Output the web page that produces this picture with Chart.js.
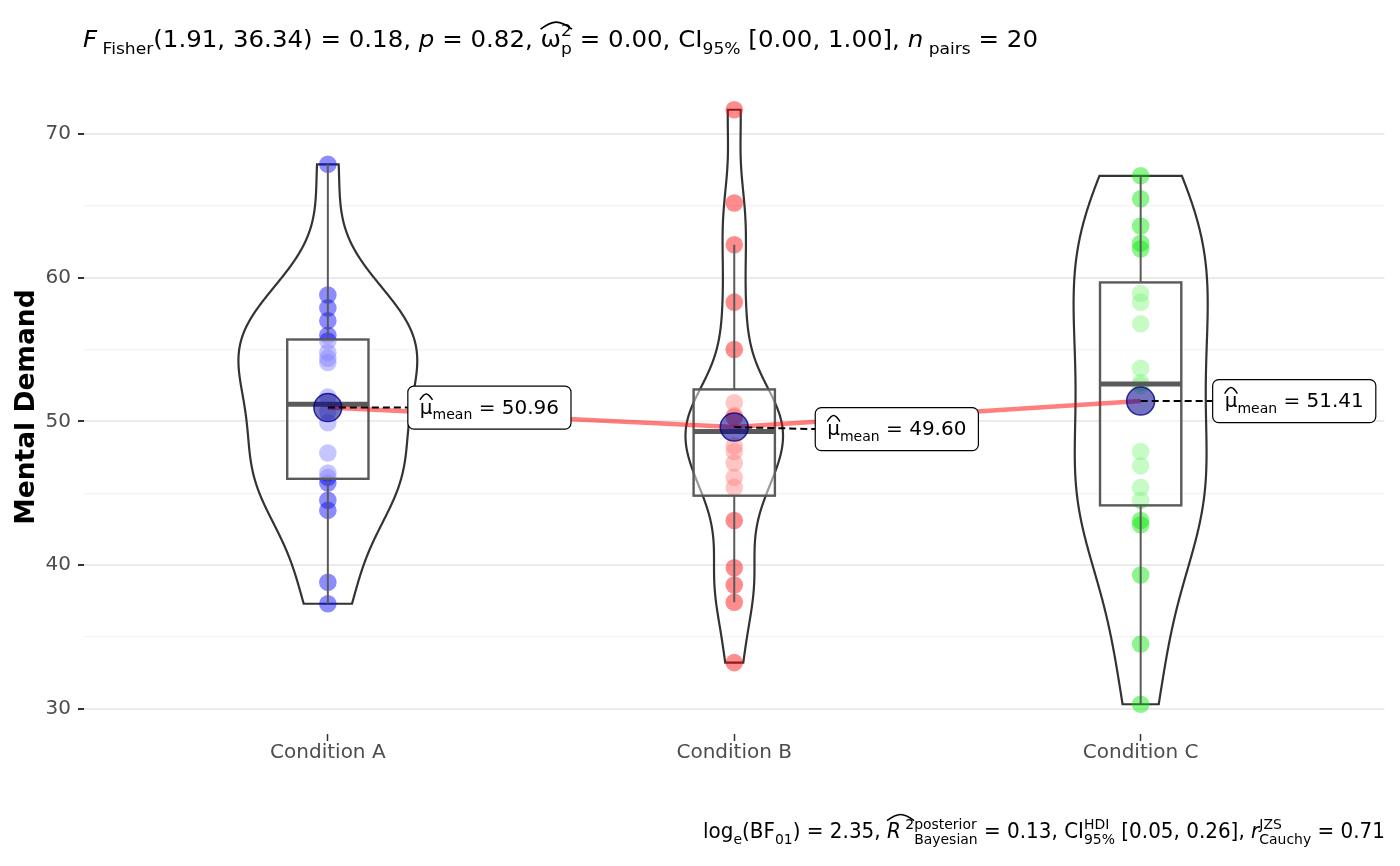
<!DOCTYPE html>
<html>
<head>
<meta charset="utf-8">
<script src="https://cdn.jsdelivr.net/npm/chart.js@4.4.1/dist/chart.umd.min.js"></script>
<style>
  body { margin: 0; background: #fff; }
  #wrap { width: 1400px; height: 866px; position: relative; }
</style>
</head>
<body>
<div id="wrap"><canvas id="chart"></canvas></div>
<script>
// values
const categories = ['Condition A', 'Condition B', 'Condition C'];
const condA = [67.9, 58.8, 57.9, 57.0, 56.0, 55.6, 54.8, 54.4, 54.1, 51.7, 50.7, 49.9, 47.8, 46.1, 46.4, 45.7, 44.5, 43.8, 38.8, 37.3];
const condB = [71.7, 65.2, 62.3, 58.3, 55.0, 51.3, 50.4, 50.3, 50.3, 50.3, 48.3, 47.9, 47.1, 46.1, 45.4, 43.1, 39.8, 38.6, 37.4, 33.2];
const condC = [67.1, 65.5, 63.6, 62.4, 62.0, 58.9, 58.3, 56.8, 53.7, 52.7, 52.5, 47.9, 46.9, 45.4, 44.5, 43.1, 42.8, 39.3, 34.5, 30.3];
const yTicks = [30, 35, 40, 45, 50, 55, 60, 65, 70];

const groups = [condA, condB, condC];
const pointColors = ['rgba(0,0,255,0.45)', 'rgba(255,0,0,0.45)', 'rgba(0,235,0,0.45)'];
const violinHalfWidth = [0.22, 0.12, 0.165];
const labelNudgeX = [80, 81, 72];
const labelNudgeY = [0, 2, 0];
const FONT = 'DejaVu Sans';

// little stats helpers
const mean = a => a.reduce((s, v) => s + v, 0) / a.length;
function quantile(a, p) {
  const s = [...a].sort((x, y) => x - y);
  const h = (s.length - 1) * p, lo = Math.floor(h);
  return lo + 1 < s.length ? s[lo] + (h - lo) * (s[lo + 1] - s[lo]) : s[lo];
}
function bwNrd0(a) {
  const m = mean(a);
  const sd = Math.sqrt(a.reduce((s, v) => s + (v - m) ** 2, 0) / (a.length - 1));
  const iqr = quantile(a, 0.75) - quantile(a, 0.25);
  return 0.9 * Math.min(sd, iqr / 1.34) * Math.pow(a.length, -0.2);
}
function kde(a, bw, y) {
  let s = 0;
  a.forEach(v => { s += Math.exp(-0.5 * ((y - v) / bw) ** 2); });
  return s / (a.length * bw * Math.sqrt(2 * Math.PI));
}

const means = groups.map(mean);
const allVals = groups.flat();
const yLo = Math.min(...allVals), yHi = Math.max(...allVals);
const yPad = (yHi - yLo) * 0.05;

// violin outlines (trimmed at the data range)
const violins = groups.map(g => {
  const bw = bwNrd0(g), lo = Math.min(...g), hi = Math.max(...g);
  const ys = [], ds = [];
  for (let k = 0; k < 512; k++) {
    const y = lo + (hi - lo) * k / 511;
    ys.push(y); ds.push(kde(g, bw, y));
  }
  return { ys, ds, max: Math.max(...ds) };
});

// boxplot stats
const boxes = groups.map(g => {
  const q1 = quantile(g, 0.25), q3 = quantile(g, 0.75), med = quantile(g, 0.5);
  const iqr = q3 - q1;
  const inside = g.filter(v => v >= q1 - 1.5 * iqr && v <= q3 + 1.5 * iqr);
  return { q1, q3, med, lo: Math.min(...inside), hi: Math.max(...inside) };
});

// rich text (sub / superscripts, italics, hats)
function segFont(size, italic) { return (italic ? 'italic ' : '') + size + 'px "' + FONT + '"'; }
function segWidth(ctx, s, size) {
  if (s.st === 'stack') {
    ctx.font = segFont(size * 0.7);
    return Math.max(ctx.measureText(s.sup).width, ctx.measureText(s.sub).width);
  }
  const sz = (s.st === 'sub' || s.st === 'sup') ? size * 0.7 : size;
  ctx.font = segFont(sz, s.st === 'i');
  return ctx.measureText(s.t).width;
}
function drawHat(ctx, x0, x1, y, size, hatEm) {
  const top = y - size * hatEm, base = top + size * 0.3;
  ctx.save();
  ctx.strokeStyle = '#000';
  ctx.lineWidth = size * 0.07;
  ctx.beginPath();
  ctx.moveTo(x0, base);
  ctx.quadraticCurveTo(x0 + (x1 - x0) * 0.3, top, (x0 + x1) / 2, top);
  ctx.quadraticCurveTo(x0 + (x1 - x0) * 0.7, top, x1, base);
  ctx.stroke();
  ctx.restore();
}
function richWidth(ctx, segs, size) {
  return segs.reduce((s, g) => s + segWidth(ctx, g, size), 0);
}
function drawRich(ctx, segs, x, y, size, fitWidth, hatEm) {
  const w = richWidth(ctx, segs, size);
  const sx = fitWidth ? fitWidth / w : 1;
  ctx.save();
  ctx.translate(x, y);
  ctx.scale(sx, 1);
  ctx.fillStyle = '#000';
  ctx.textBaseline = 'alphabetic';
  ctx.textAlign = 'left';
  let cx = 0, hatStart = 0;
  segs.forEach(s => {
    const sw = segWidth(ctx, s, size);
    if (s.hat === 'start' || s.hat === 'both') hatStart = cx;
    if (s.st === 'stack') {
      ctx.font = segFont(size * 0.7);
      ctx.fillText(s.sup, cx, -size * 0.45);
      ctx.fillText(s.sub, cx, size * 0.3);
    } else if (s.st === 'sub') {
      ctx.font = segFont(size * 0.7);
      ctx.fillText(s.t, cx, size * 0.28);
    } else if (s.st === 'sup') {
      ctx.font = segFont(size * 0.7);
      ctx.fillText(s.t, cx, -size * 0.42);
    } else {
      ctx.font = segFont(size, s.st === 'i');
      ctx.fillText(s.t, cx, 0);
    }
    cx += sw;
    if (s.hat === 'end' || s.hat === 'both') drawHat(ctx, hatStart, cx, 0, size, s.hatEm || hatEm || 1.05);
  });
  ctx.restore();
  return w * sx;
}

const titleSegs = [
  { t: 'F', st: 'i' }, { t: ' Fisher', st: 'sub' }, { t: '(1.91, 36.34) = 0.18, ' },
  { t: 'p', st: 'i' }, { t: ' = 0.82, ' },
  { t: 'ω', hat: 'start' }, { st: 'stack', sup: '2', sub: 'p', hat: 'end', hatEm: 1.06 },
  { t: ' = 0.00, CI' }, { t: '95%', st: 'sub' }, { t: ' [0.00, 1.00], ' },
  { t: 'n', st: 'i' }, { t: ' pairs', st: 'sub' }, { t: ' = 20' }
];
const captionSegs = [
  { t: 'log' }, { t: 'e', st: 'sub' }, { t: '(BF' }, { t: '01', st: 'sub' }, { t: ') = 2.35, ' },
  { t: 'R', st: 'i', hat: 'start' }, { t: ' 2', st: 'sup', hat: 'end', hatEm: 1.15 },
  { st: 'stack', sup: 'posterior', sub: 'Bayesian' }, { t: ' = 0.13, CI' },
  { st: 'stack', sup: 'HDI', sub: '95%' }, { t: ' [0.05, 0.26], ' },
  { t: 'r', st: 'i' }, { st: 'stack', sup: 'JZS', sub: 'Cauchy' }, { t: ' = 0.71' }
];

const overlay = {
  id: 'overlay',
  beforeDatasetsDraw(chart) {
    const ctx = chart.ctx, xs = chart.scales.x, ys = chart.scales.y;
    ctx.save();
    ctx.strokeStyle = '#333';
    ctx.lineWidth = 2.2;
    violins.forEach((v, i) => {
      const f = violinHalfWidth[i] / v.max;
      ctx.beginPath();
      v.ys.forEach((y, k) => {
        const px = xs.getPixelForValue(i - v.ds[k] * f), py = ys.getPixelForValue(y);
        k ? ctx.lineTo(px, py) : ctx.moveTo(px, py);
      });
      for (let k = v.ys.length - 1; k >= 0; k--) {
        ctx.lineTo(xs.getPixelForValue(i + v.ds[k] * f), ys.getPixelForValue(v.ys[k]));
      }
      ctx.closePath();
      ctx.stroke();
    });
    ctx.restore();
  },
  afterDatasetDraw(chart, args) {
    if (args.index !== 2) return;
    const ctx = chart.ctx, xs = chart.scales.x, ys = chart.scales.y;
    ctx.save();
    ctx.strokeStyle = '#5a5a5a';
    boxes.forEach((b, i) => {
      const xc = xs.getPixelForValue(i), xl = xs.getPixelForValue(i - 0.1), xr = xs.getPixelForValue(i + 0.1);
      const y1 = ys.getPixelForValue(b.q1), y3 = ys.getPixelForValue(b.q3);
      ctx.lineWidth = 2;
      ctx.beginPath();
      ctx.moveTo(xc, y3); ctx.lineTo(xc, ys.getPixelForValue(b.hi));
      ctx.moveTo(xc, y1); ctx.lineTo(xc, ys.getPixelForValue(b.lo));
      ctx.stroke();
      ctx.fillStyle = 'rgba(255,255,255,0.5)';
      ctx.fillRect(xl, y3, xr - xl, y1 - y3);
      ctx.lineWidth = 2.4;
      ctx.strokeRect(xl, y3, xr - xl, y1 - y3);
      ctx.lineWidth = 5;
      ctx.beginPath();
      const ym = ys.getPixelForValue(b.med);
      ctx.moveTo(xl, ym); ctx.lineTo(xr, ym);
      ctx.stroke();
    });
    ctx.restore();
  },
  afterDatasetsDraw(chart) {
    const ctx = chart.ctx, xs = chart.scales.x, ys = chart.scales.y;
    means.forEach((m, i) => {
      const mx = xs.getPixelForValue(i), my = ys.getPixelForValue(m);
      const lx = mx + labelNudgeX[i], ly = my + labelNudgeY[i];
      ctx.save();
      ctx.strokeStyle = '#000';
      ctx.lineWidth = 2;
      ctx.setLineDash([7, 4]);
      ctx.beginPath();
      ctx.moveTo(mx, my); ctx.lineTo(lx, ly);
      ctx.stroke();
      ctx.setLineDash([]);
      const segs = [{ t: 'μ', hat: 'both', hatEm: 0.98 }, { t: 'mean', st: 'sub' }, { t: ' = ' + m.toFixed(2) }];
      const tw = richWidth(ctx, segs, 20);
      const bw = tw + 24, bh = 43;
      ctx.beginPath();
      ctx.roundRect(lx, ly - bh / 2, bw, bh, 6);
      ctx.fillStyle = '#fff';
      ctx.fill();
      ctx.lineWidth = 1.2;
      ctx.stroke();
      drawRich(ctx, segs, lx + 12, ly + 6, 20);
      ctx.restore();
    });
  },
  afterDraw(chart) {
    const ctx = chart.ctx;
    drawRich(ctx, titleSegs, 83, 47, 23.5, 955);
    const cw = 682;
    drawRich(ctx, captionSegs, 1385 - cw, 838, 20.5, cw);
  }
};

const datasets = groups.map((g, i) => ({
  type: 'scatter',
  data: g.map(v => ({ x: i, y: v })),
  backgroundColor: pointColors[i],
  borderWidth: 0,
  pointRadius: 8.8,
  order: 5 - i
}));
datasets.push({
  type: 'line',
  data: means.map((m, i) => ({ x: i, y: m })),
  borderColor: 'rgba(255,0,0,0.5)',
  borderWidth: 4.5,
  pointRadius: 0,
  fill: false,
  order: 2
});
datasets.push({
  type: 'scatter',
  data: means.map((m, i) => ({ x: i, y: m })),
  backgroundColor: 'rgba(0,0,139,0.55)',
  borderColor: 'rgba(0,0,139,0.8)',
  borderWidth: 1.5,
  pointRadius: 14,
  order: 1
});

new Chart(document.getElementById('chart'), {
  type: 'scatter',
  data: { datasets },
  options: {
    responsive: true,
    maintainAspectRatio: false,
    animation: false,
    events: [],
    layout: { padding: { top: 80, right: 14, bottom: 82, left: 0 } },
    plugins: { legend: { display: false }, tooltip: { enabled: false } },
    scales: {
      x: {
        type: 'linear',
        min: -0.6,
        max: 2.6,
        afterBuildTicks: s => { s.ticks = categories.map((c, i) => ({ value: i })); },
        afterFit: s => { s.height = 50; },
        border: { display: false },
        grid: { drawOnChartArea: false, drawTicks: true, tickLength: 7, tickColor: '#333', tickWidth: 1.5 },
        ticks: {
          autoSkip: false, maxRotation: 0, padding: 0,
          color: '#4d4d4d', font: { family: FONT, size: 20 },
          callback: v => categories[Math.round(v)]
        }
      },
      y: {
        min: yLo - yPad,
        max: yHi + yPad,
        afterBuildTicks: s => { s.ticks = yTicks.map(v => ({ value: v })); },
        afterFit: s => { s.width = 84; },
        border: { display: false },
        grid: {
          color: c => (c.tick && c.tick.value % 10 === 0) ? '#ebebeb' : '#f3f3f3',
          lineWidth: c => (c.tick && c.tick.value % 10 === 0) ? 2 : 1.3,
          tickColor: c => (c.tick && c.tick.value % 10 === 0) ? '#333' : 'rgba(0,0,0,0)',
          tickLength: 6,
          tickWidth: 2
        },
        ticks: {
          padding: 7,
          color: '#4d4d4d', font: { family: FONT, size: 20 },
          callback: v => (v % 10 === 0 ? v : '')
        },
        title: {
          display: true, text: 'Mental Demand', color: '#000',
          font: { family: FONT, size: 26.5, weight: 'bold' },
          padding: { top: 11, bottom: 0 }
        }
      }
    }
  },
  plugins: [overlay]
});
</script>
</body>
</html>
